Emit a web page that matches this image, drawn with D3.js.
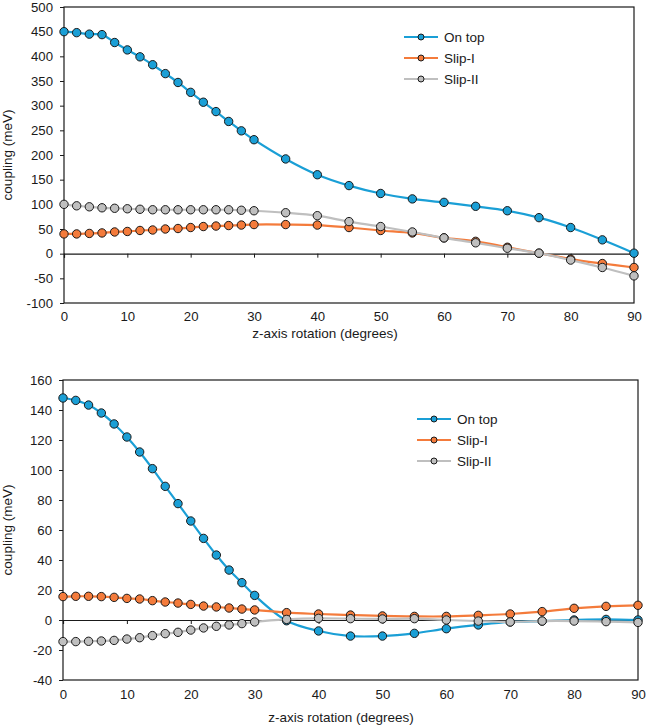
<!DOCTYPE html>
<html>
<head>
    <meta charset="utf-8">
    <title>Coupling vs rotation</title>
    <script src="https://cdn.jsdelivr.net/npm/d3@7"></script>
    <style>
        body {
            margin: 0;
            padding: 0;
            background-color: white;
        }

        text {
            font-family: "Liberation Sans", Arial, sans-serif;
            fill: #1a1a1a;
        }

        .tick text {
            font-size: 13.2px;
        }

        .axis-label {
            font-size: 13.5px;
        }

        .legend text {
            font-size: 13.5px;
        }
    </style>
</head>
<body>
    <div id="chart"></div>

    <script>
        // rotation angles (degrees)
        const angles = [0, 2, 4, 6, 8, 10, 12, 14, 16, 18, 20, 22, 24, 26, 28, 30,
                        35, 40, 45, 50, 55, 60, 65, 70, 75, 80, 85, 90];

        const seriesNames = ["On top", "Slip-I", "Slip-II"];
        const seriesColors = ["#1a9fd6", "#f47b3b", "#bfbfbf"];

        // upper panel
        const topOnTop = [450, 448, 445, 444, 428, 413, 399, 383, 365, 347, 327, 307, 288, 268, 249, 231,
                          192, 160, 138, 122, 111, 104, 96, 87, 73, 53, 28, 1];
        const topSlipI = [40, 40, 41, 42, 44, 45, 47, 48, 50, 51, 53, 55, 56, 57, 58, 59,
                          59, 58, 53, 47, 42, 32, 25, 13, 1, -11, -20, -28];
        const topSlipII = [100, 97, 95, 93, 92, 91, 90, 89, 89, 89, 89, 89, 89, 89, 88, 87,
                           83, 77, 65, 55, 44, 32, 22, 11, 1, -13, -28, -45];
        const topYTicks = [-100, -50, 0, 50, 100, 150, 200, 250, 300, 350, 400, 450, 500];

        // lower panel
        const botOnTop = [148, 146.4, 143.3, 138, 130.7, 122, 112, 100.9, 89.1, 77.6, 66, 54.4, 43.3, 33.3, 24.9, 16.4,
                          -0.5, -7.3, -10.7, -10.7, -8.9, -5.8, -3.3, -1.3, -0.7, 0, 0.4, 0];
        const botSlipI = [15.6, 15.8, 15.8, 15.6, 15.1, 14.4, 14, 12.9, 12, 11.3, 10.4, 9.3, 8.7, 8, 7.3, 6.7,
                          4.9, 4, 3.3, 2.7, 2.4, 2.4, 3.1, 4, 5.6, 7.8, 9.1, 9.8];
        const botSlipII = [-14.4, -14.4, -14.2, -14, -13.6, -12.7, -11.8, -10.4, -9.1, -8.2, -6.7, -5.3, -4.2, -3.3, -2.4, -1.3,
                           0.4, 1.1, 0.9, 0.7, 0.9, 0, -0.7, -1.3, -0.7, -0.7, -1.1, -1.6];
        const botYTicks = [-40, -20, 0, 20, 40, 60, 80, 100, 120, 140, 160];

        const xTicks = [0, 10, 20, 30, 40, 50, 60, 70, 80, 90];

        const svg = d3.select("#chart")
            .append("svg")
            .attr("width", 646)
            .attr("height", 727);

        function drawPanel(cfg) {
            const g = svg.append("g")
                .attr("transform", `translate(${cfg.left},${cfg.top})`);
            const width = cfg.width;
            const height = cfg.height;

            const xScale = d3.scaleLinear().domain([0, 90]).range([0, width]);
            const yScale = d3.scaleLinear()
                .domain([cfg.yTicks[0], cfg.yTicks[cfg.yTicks.length - 1]])
                .range([height, 0]);

            // y axis (plain hyphen for negatives, like the original)
            const yAxis = g.append("g")
                .call(d3.axisLeft(yScale).tickValues(cfg.yTicks).tickSize(4).tickPadding(7).tickFormat(d => String(d)));
            yAxis.select(".domain").remove();
            yAxis.selectAll("line").attr("stroke", "#1a1a1a");

            // x tick labels along the bottom of the frame
            const xLabels = g.append("g")
                .attr("transform", `translate(0,${height})`)
                .call(d3.axisBottom(xScale).tickValues(xTicks).tickSize(0).tickPadding(cfg.xPad));
            xLabels.select(".domain").remove();

            // frame
            g.append("rect")
                .attr("width", width)
                .attr("height", height)
                .attr("fill", "none")
                .attr("stroke", "#1a1a1a")
                .attr("stroke-width", 1.2);

            // zero line with ticks
            const zeroAxis = g.append("g")
                .attr("transform", `translate(0,${yScale(0)})`)
                .call(d3.axisBottom(xScale).tickValues(xTicks).tickSize(4).tickFormat(""));
            zeroAxis.select(".domain").attr("stroke", "#1a1a1a").attr("stroke-width", 1.2);
            zeroAxis.selectAll("line").attr("stroke", "#1a1a1a");

            const line = d3.line()
                .x((d, i) => xScale(angles[i]))
                .y(d => yScale(d))
                .curve(d3.curveCatmullRom.alpha(0.5));

            cfg.series.forEach((vals, s) => {
                g.append("path")
                    .datum(vals)
                    .attr("fill", "none")
                    .attr("stroke", seriesColors[s])
                    .attr("stroke-width", 2.2)
                    .attr("d", line);

                g.selectAll(".dot-" + s)
                    .data(vals)
                    .enter()
                    .append("circle")
                    .attr("class", "dot-" + s)
                    .attr("cx", (d, i) => xScale(angles[i]))
                    .attr("cy", d => yScale(d))
                    .attr("r", 4.2)
                    .attr("fill", seriesColors[s])
                    .attr("stroke", "#1a1a1a")
                    .attr("stroke-width", 1);
            });

            // legend
            const legend = g.append("g")
                .attr("class", "legend")
                .attr("transform", `translate(${cfg.legendX},${cfg.legendY})`);
            seriesNames.forEach((name, s) => {
                const row = legend.append("g").attr("transform", `translate(0,${s * 21})`);
                row.append("line")
                    .attr("x1", 0).attr("x2", 34)
                    .attr("stroke", seriesColors[s])
                    .attr("stroke-width", 2.2);
                row.append("circle")
                    .attr("cx", 17)
                    .attr("r", 3)
                    .attr("fill", seriesColors[s])
                    .attr("stroke", "#1a1a1a")
                    .attr("stroke-width", 1);
                row.append("text")
                    .attr("x", 40)
                    .attr("dy", "0.35em")
                    .text(name);
            });

            // axis titles
            g.append("text")
                .attr("class", "axis-label")
                .attr("x", cfg.titleX)
                .attr("y", height + cfg.titleDy)
                .attr("text-anchor", "middle")
                .text("z-axis rotation (degrees)");

            g.append("text")
                .attr("class", "axis-label")
                .attr("transform", "rotate(-90)")
                .attr("x", -height / 2)
                .attr("y", -cfg.left + 12)
                .attr("text-anchor", "middle")
                .text("coupling (meV)");
        }

        drawPanel({
            left: 64, top: 7, width: 570, height: 296,
            yTicks: topYTicks,
            series: [topOnTop, topSlipI, topSlipII],
            legendX: 340, legendY: 30,
            xPad: 9, titleX: 261, titleDy: 35
        });

        drawPanel({
            left: 63, top: 380, width: 575, height: 300,
            yTicks: botYTicks,
            series: [botOnTop, botSlipI, botSlipII],
            legendX: 354, legendY: 39,
            xPad: 10, titleX: 278, titleDy: 42
        });
    </script>
</body>
</html>
